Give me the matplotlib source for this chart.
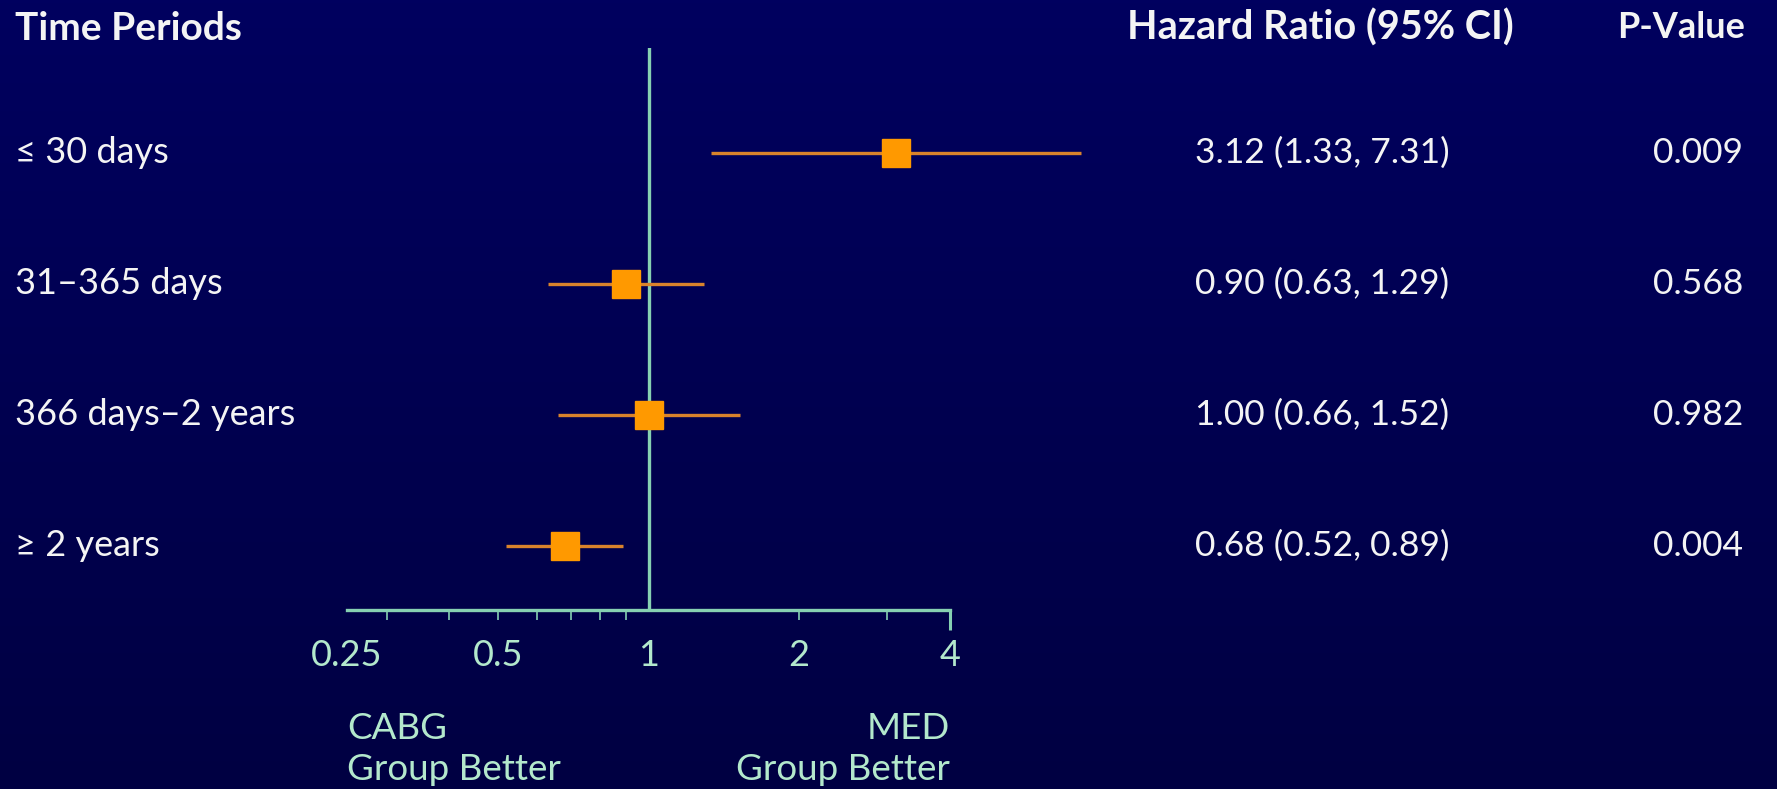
import numpy as np
import matplotlib
matplotlib.use("Agg")
import matplotlib.pyplot as plt
from matplotlib.transforms import blended_transform_factory

# data
periods = ["\u2264 30 days", "31\u2013365 days", "366 days\u20132 years", "\u2265 2 years"]
hr = [3.12, 0.90, 1.00, 0.68]
ci_low = [1.33, 0.63, 0.66, 0.52]
ci_high = [7.31, 1.29, 1.52, 0.89]
p_values = ["0.009", "0.568", "0.982", "0.004"]
tick_vals = [0.25, 0.5, 1, 2, 4]
tick_labels = ["0.25", "0.5", "1", "2", "4"]
minor_vals = [0.3, 0.4, 0.5, 0.6, 0.7, 0.8, 0.9, 2, 3]

plt.rcParams["font.family"] = ["Lato", "DejaVu Sans"]

W, H = 1777, 789
fig = plt.figure(figsize=(W / 100, H / 100), dpi=100)

# background gradient (top slightly brighter navy)
bg = fig.add_axes([0, 0, 1, 1], zorder=-10)
grad = np.linspace(0, 1, 256).reshape(-1, 1)
cmap = matplotlib.colors.LinearSegmentedColormap.from_list("bg", ["#00005f", "#000042"])
bg.imshow(grad, aspect="auto", cmap=cmap, extent=[0, 1, 0, 1])
bg.axis("off")

green = "#86d0b2"
green_txt = "#b3e8cc"
white = "#f4f4f4"
orange = "#ff9900"
line_orange = "#d9832c"

ax = fig.add_axes([347 / W, 179 / H, 603 / W, 562 / H])
ax.set_facecolor("none")
ax.set_xscale("log", base=2)
ax.set_xlim(0.25, 4)
rows = np.arange(len(periods))
ax.set_ylim(3.49, -0.80)

ax.axvline(1, color=green, lw=2.4, zorder=1)
ax.hlines(rows, ci_low, ci_high, color=line_orange, lw=2.4, zorder=2, clip_on=False)
ax.plot(hr, rows, "s", color=orange, markersize=19.5, zorder=3, clip_on=False)

for s in ["top", "right", "left"]:
    ax.spines[s].set_visible(False)
ax.spines["bottom"].set_color(green)
ax.spines["bottom"].set_linewidth(2.4)
ax.spines["bottom"].set_bounds(0.25, 4)
ax.set_yticks([])
ax.set_xticks(tick_vals, labels=tick_labels)
ax.set_xticks(minor_vals, minor=True)
ax.xaxis.set_minor_formatter(matplotlib.ticker.NullFormatter())
ax.xaxis.remove_overlapping_locs = False
ax.tick_params(axis="x", which="major", length=0, pad=21, labelsize=26, labelcolor=green_txt)
ax.tick_params(axis="x", which="minor", length=7, width=1.2, color=green)

# long end tick at 4
sec = ax.secondary_xaxis(0)
sec.set_xticks([4], labels=[""])
sec.tick_params(length=14.5, width=2.2, color=green)
sec.spines["bottom"].set_visible(False)

# table text
tr = blended_transform_factory(fig.transFigure, ax.transData)
for i in rows:
    ax.text(15 / W, i, periods[i], transform=tr, ha="left", va="center",
            fontsize=26, color=white)
    ax.text(1322 / W, i, f"{hr[i]:.2f} ({ci_low[i]:.2f}, {ci_high[i]:.2f})",
            transform=tr, ha="center", va="center", fontsize=25.5, color=white)
    ax.text(1743 / W, i, p_values[i], transform=tr, ha="right", va="center",
            fontsize=25.5, color=white)

hy = 1 - 28 / H
fig.text(15 / W, hy, "Time Periods", ha="left", va="center", fontsize=28,
         fontweight="bold", color=white)
fig.text(1320 / W, hy, "Hazard Ratio (95% CI)", ha="center", va="center",
         fontsize=28.5, fontweight="bold", color=white)
fig.text(1745 / W, hy, "P-Value", ha="right", va="center", fontsize=26,
         fontweight="bold", color=white)

by = 1 - 749 / H
fig.text(347 / W, by, "CABG\nGroup Better", ha="left", va="center",
         fontsize=26.5, color=green_txt, linespacing=1.3)
fig.text(950 / W, by, "MED\nGroup Better", ha="right", va="center",
         fontsize=26.5, color=green_txt, linespacing=1.3, multialignment="right")

fig.savefig("out.png", dpi=100)
